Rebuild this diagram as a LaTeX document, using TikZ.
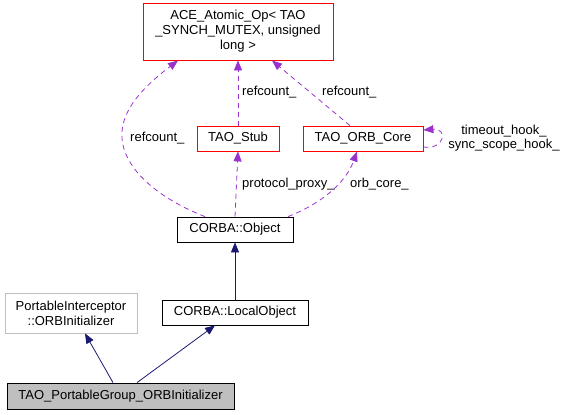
\documentclass[tikz,border=0pt]{standalone}
\usepackage{fontspec}
\setmainfont{Liberation Sans}
\usetikzlibrary{arrows.meta}
\definecolor{inh}{HTML}{191970}
\definecolor{use}{HTML}{9A32CD}
\begin{document}
\begin{tikzpicture}[x=1pt,y=-1pt,
  every node/.style={font=\fontsize{13}{15}\selectfont},
  cls/.style={draw=black,line width=0.8pt,inner sep=0pt,align=center},
  redcls/.style={draw=red,line width=0.8pt,inner sep=0pt,align=center},
  inhedge/.style={draw=inh,line width=0.8pt,-{Triangle[length=10pt,width=8pt]}},
  useedge/.style={draw=use,line width=0.8pt,dash pattern=on 5pt off 4pt,-{Triangle[length=10pt,width=8pt]}},
  lbl/.style={inner sep=0pt,anchor=west}]
\useasboundingbox (0,0) rectangle (566,415);
\node[redcls,minimum width=190pt,minimum height=57pt] (ace) at (238,31.5) {ACE\_Atomic\_Op< TAO\\\_SYNCH\_MUTEX, unsigned\\long >};
\node[redcls,minimum width=82pt,minimum height=25pt] (stub) at (238,138.5) {TAO\_Stub};
\node[redcls,minimum width=120pt,minimum height=25pt] (orb) at (363,138.5) {TAO\_ORB\_Core};
\node[cls,minimum width=116pt,minimum height=25pt] (obj) at (235,229.5) {CORBA::Object};
\node[cls,minimum width=146pt,minimum height=25pt] (lobj) at (235,312.5) {CORBA::LocalObject};
\node[draw=black!25,line width=0.8pt,inner sep=0pt,align=center,minimum width=132pt,minimum height=40pt] (pi) at (71,313) {PortableInterceptor\\::ORBInitializer};
\node[cls,fill=black!25,minimum width=227pt,minimum height=26pt] (tpg) at (120.5,396) {TAO\_PortableGroup\_ORBInitializer};
% use edges
\draw[useedge] (obj.north -| 205,0) .. controls (150,195) and (115,160) .. (123,125) .. controls (128,100) and (155,78) .. (178,60.5);
\draw[useedge] (stub.north) -- (ace.south -| stub.north);
\draw[useedge] (orb.north -| 350,0) -- (272,60.5);
\draw[useedge] (obj.north) -- (stub.south);
\draw[useedge] (obj.north -| 288,0) .. controls (318,205) and (345,185) .. (357,151.5);
\draw[useedge] (orb.east |- 0,147) .. controls (445,150) and (448,128) .. (orb.east |- 0,130);
% inheritance
\draw[inhedge] (lobj.north) -- (obj.south);
\draw[inhedge] (tpg.north -| 137,0) -- (lobj.south -| 215,0);
\draw[inhedge] (tpg.north -| 113,0) -- (pi.south -| 85,0);
% labels
\node[lbl] (l1) at (130,138) {refcount\_};
\node[lbl] (l2) at (242,92) {refcount\_};
\node[lbl] (l3) at (322,92) {refcount\_};
\node[lbl] (l4) at (242,184) {protocol\_proxy\_};
\node[lbl] (l5) at (350,184) {orb\_core\_};
\node[inner sep=0pt,align=center,font=\fontsize{13}{14}\selectfont] (l6) at (504,138) {timeout\_hook\_\\sync\_scope\_hook\_};
\end{tikzpicture}
\end{document}
